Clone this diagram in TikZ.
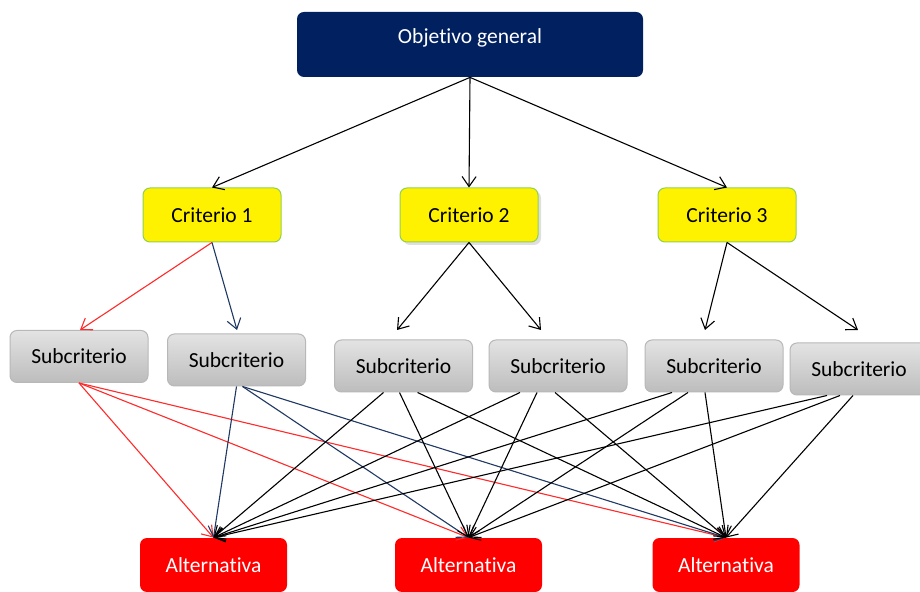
\documentclass[tikz,border=0pt]{standalone}
\usepackage{fontspec}
\setmainfont{Carlito}[Ligatures={NoCommon,NoRare}, Contextuals={NoAlternate}]
\usetikzlibrary{arrows.meta,shadows}

\definecolor{azulobj}{HTML}{002060}
\definecolor{verdecrit}{HTML}{92D050}
\definecolor{rojoalt}{HTML}{FF0000}
\definecolor{rojoflecha}{HTML}{FF2A2A}
\definecolor{azulflecha}{HTML}{203864}

\begin{document}
\begin{tikzpicture}[x=0.5pt, y=-0.5pt,
    every node/.style={rounded corners=3.5pt, inner sep=0pt, font=\fontsize{10.75}{13}\selectfont},
    objetivo/.style={fill=azulobj, text=white, minimum width=173pt, text height=16pt, text depth=16.5pt},
    criterio/.style={fill=yellow, draw=verdecrit, line width=0.5pt, minimum width=69pt, minimum height=27pt},
    subcrit/.style={top color=black!11, bottom color=black!26, draw=black!28, line width=0.5pt, minimum width=69pt, minimum height=26pt},
    alternativa/.style={fill=rojoalt, text=white, minimum width=73.5pt, minimum height=27pt},
    flecha/.style={draw=black, line width=0.55pt, -{Straight Barb[length=5pt,width=7pt]}}]
			\clip (0,0) rectangle (920,592);
			\fill[white] (0,0) rectangle (920,592);
			
			\node[objetivo] (obj) at (470,44.5){Objetivo general};
			
			\node[criterio] (c1) at (212,215){Criterio 1};
			\node[criterio, drop shadow={shadow xshift=1.5pt, shadow yshift=-1.5pt, opacity=0.25}] (c2) at (469,215){Criterio 2};
			\node[criterio] (c3) at (727,215){Criterio 3};
			
			\node[subcrit] (s1) at (79,356.5){Subcriterio};
			\node[subcrit] (s2) at (236.5,360){Subcriterio};
			\node[subcrit] (s3) at (403.5,366){Subcriterio};
			\node[subcrit] (s4) at (558,366){Subcriterio};
			\node[subcrit] (s5) at (714,366){Subcriterio};
			\node[subcrit] (s6) at (859,369){Subcriterio};
			
			\node[alternativa] (a1) at (213.5,565){Alternativa};
			\node[alternativa] (a2) at (468.5,565){Alternativa};
			\node[alternativa] (a3) at (726,565){Alternativa};
			
			\coordinate (t1) at (80,330);
			\coordinate (t2) at (237,330);
			\coordinate (t3) at (397,330);
			\coordinate (t4) at (541,330);
			\coordinate (t5) at (705,330);
			\coordinate (t6) at (858,330);
			
			\path (obj.south) edge[flecha] (c1.north);
			\path (obj.south) edge[flecha] (c2.north);
			\path (obj.south) edge[flecha] (c3.north);
			
			\path (c1.south) edge[flecha, draw=rojoflecha] (t1);
			\path (c1.south) edge[flecha, draw=azulflecha] (t2);
			\path (c2.south) edge[flecha] (t3);
			\path (c2.south) edge[flecha] (t4);
			\path (c3.south) edge[flecha] (t5);
			\path (c3.south) edge[flecha] (t6);
			
			\path (s1.south) edge[flecha, draw=rojoflecha] (a1.north);
			\path (s1.south) edge[flecha, draw=rojoflecha] (a2.north);
			\path (s1.south) edge[flecha, draw=rojoflecha] (a3.north);
			
			\path (s2.south) edge[flecha, draw=azulflecha] (a1.north);
			\path ([xshift=3pt]s2.south) edge[flecha, draw=azulflecha] (a2.north);
			\path ([xshift=3pt]s2.south) edge[flecha, draw=azulflecha] (a3.north);
			
			\path ([xshift=-10pt]s3.south) edge[flecha] (a1.north);
			\path ([xshift=-2pt]s3.south) edge[flecha] (a2.north);
			\path ([xshift=7pt]s3.south) edge[flecha] (a3.north);
			
			\path ([xshift=-19pt]s4.south) edge[flecha] (a1.north);
			\path ([xshift=-10.5pt]s4.south) edge[flecha] (a2.north);
			\path ([xshift=-1.5pt]s4.south) edge[flecha] (a3.north);
			
			\path ([xshift=-21pt]s5.south) edge[flecha] (a1.north);
			\path ([xshift=-13pt]s5.south) edge[flecha] (a2.north);
			\path ([xshift=-4.5pt]s5.south) edge[flecha] (a3.north);
			
			\path ([xshift=-16pt]s6.south) edge[flecha] (a1.north);
			\path ([xshift=-9.5pt]s6.south) edge[flecha] (a2.north);
			\path ([xshift=-3pt]s6.south) edge[flecha] (a3.north);
\end{tikzpicture}
\end{document}
